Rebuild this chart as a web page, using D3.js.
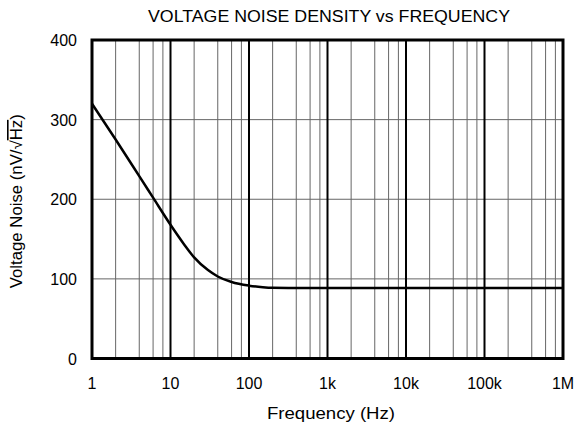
<!DOCTYPE html>
<html>
<head>
<meta charset="utf-8">
<script src="https://cdn.jsdelivr.net/npm/d3@7"></script>
<style>
  body { margin: 0; background: #fff; }
  svg { font-family: "Liberation Sans", Arial, sans-serif; }
</style>
</head>
<body>
<div id="chart"></div>
<script>
// Data
const freqs = [1, 2, 4, 6, 10, 15, 20, 30, 40, 60, 100, 150, 200, 500, 1e3, 1e4, 1e5, 1e6];
const noise = [320, 275, 229, 202, 168, 143, 127, 111, 103, 96, 91.5, 89.6, 88.9, 88.5, 88.5, 88.5, 88.5, 88.5];
const xTicks = [1, 10, 100, 1e3, 1e4, 1e5, 1e6];
const xTickLabels = ['1', '10', '100', '1k', '10k', '100k', '1M'];
const yTicks = [0, 100, 200, 300, 400];
const minorSteps = [2, 4, 6, 8];

const config = {
    width: 575,
    height: 426,
    margin: { top: 40, right: 12, bottom: 67.5, left: 92 },
    fontSize: 16
};

const svg = d3.select('#chart')
    .append('svg')
    .attr('width', config.width)
    .attr('height', config.height);

const x = d3.scaleLog()
    .domain([1, 1e6])
    .range([config.margin.left, config.width - config.margin.right]);

const y = d3.scaleLinear()
    .domain([0, 400])
    .range([config.height - config.margin.bottom, config.margin.top]);

const [x0, x1] = x.range();
const [yb, yt] = y.range();

// minor vertical grid
const minor = [];
xTicks.slice(0, -1).forEach(d => minorSteps.forEach(m => minor.push(d * m)));
svg.append('g')
    .selectAll('line')
    .data(minor)
    .join('line')
    .attr('x1', d => x(d)).attr('x2', d => x(d))
    .attr('y1', yt).attr('y2', yb)
    .attr('stroke', '#666')
    .attr('stroke-width', 1);

// horizontal grid
svg.append('g')
    .selectAll('line')
    .data(yTicks.slice(1, -1))
    .join('line')
    .attr('x1', x0).attr('x2', x1)
    .attr('y1', d => y(d)).attr('y2', d => y(d))
    .attr('stroke', '#666')
    .attr('stroke-width', 1);

// decade lines
svg.append('g')
    .selectAll('line')
    .data(xTicks.slice(1, -1))
    .join('line')
    .attr('x1', d => x(d)).attr('x2', d => x(d))
    .attr('y1', yt).attr('y2', yb)
    .attr('stroke', '#000')
    .attr('stroke-width', 2);

// curve
const line = d3.line()
    .x((d, i) => x(freqs[i]))
    .y(d => y(d))
    .curve(d3.curveMonotoneX);

svg.append('path')
    .datum(noise)
    .attr('fill', 'none')
    .attr('stroke', '#000')
    .attr('stroke-width', 2.5)
    .attr('d', line);

// frame
svg.append('rect')
    .attr('x', x0).attr('y', yt)
    .attr('width', x1 - x0).attr('height', yb - yt)
    .attr('fill', 'none')
    .attr('stroke', '#000')
    .attr('stroke-width', 3);

// tick labels
svg.append('g')
    .selectAll('text')
    .data(xTicks)
    .join('text')
    .attr('x', d => x(d))
    .attr('y', yb + 30)
    .attr('text-anchor', 'middle')
    .attr('font-size', config.fontSize)
    .text((d, i) => xTickLabels[i]);

svg.append('g')
    .selectAll('text')
    .data(yTicks)
    .join('text')
    .attr('x', x0 - 15)
    .attr('y', d => y(d) + 6)
    .attr('text-anchor', 'end')
    .attr('font-size', config.fontSize)
    .text(d => d);

// titles
svg.append('text')
    .attr('x', 329)
    .attr('y', 22)
    .attr('text-anchor', 'middle')
    .attr('font-size', config.fontSize)
    .attr('textLength', 362)
    .attr('lengthAdjust', 'spacingAndGlyphs')
    .text('VOLTAGE NOISE DENSITY vs FREQUENCY');

svg.append('text')
    .attr('x', 331)
    .attr('y', 419)
    .attr('text-anchor', 'middle')
    .attr('font-size', config.fontSize)
    .attr('textLength', 128)
    .attr('lengthAdjust', 'spacingAndGlyphs')
    .text('Frequency (Hz)');

const yl = svg.append('text')
    .attr('transform', `translate(22,${(yt + yb) / 2 + 2}) rotate(-90)`)
    .attr('text-anchor', 'middle')
    .attr('font-size', config.fontSize)
    .attr('textLength', 174)
    .attr('lengthAdjust', 'spacingAndGlyphs');
yl.append('tspan').text('Voltage Noise (nV/\u221A');
yl.append('tspan').style('text-decoration', 'overline').text('Hz');
yl.append('tspan').text(')');
</script>
</body>
</html>
